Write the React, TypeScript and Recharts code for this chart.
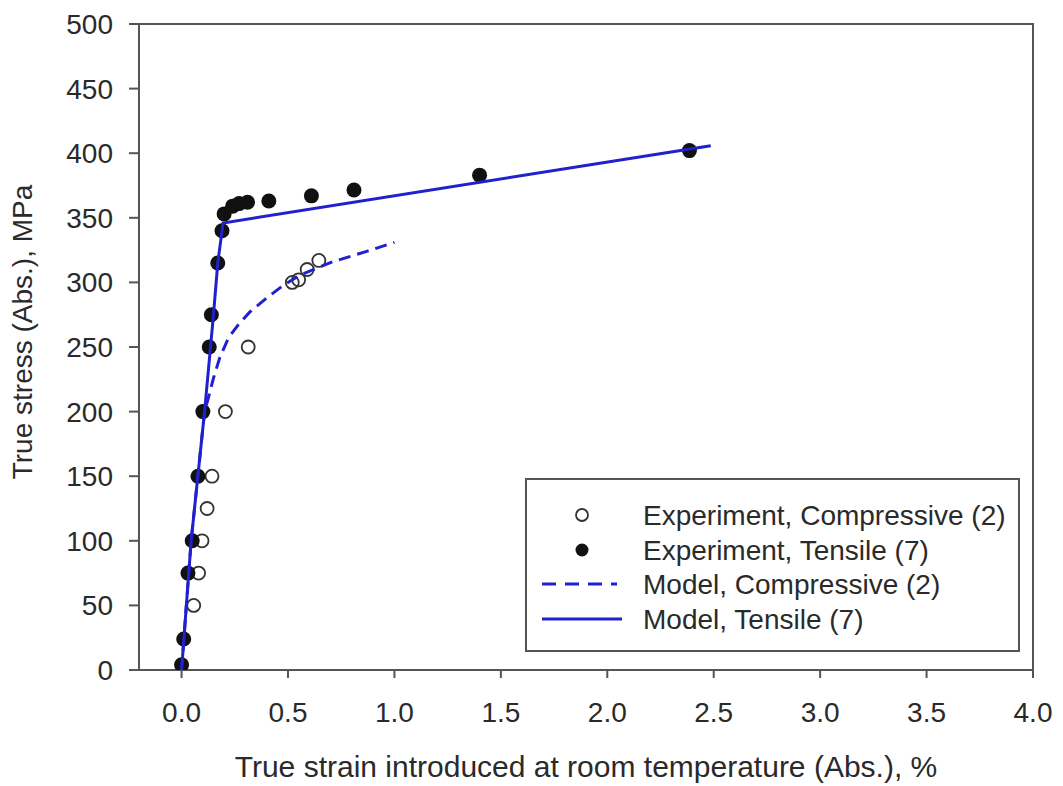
import React from 'react';
import { ScatterChart, Scatter, XAxis, YAxis, ReferenceArea, Legend, Label } from 'recharts';

// Experiment, Compressive (2) – open circles
const compExpX = [0.057, 0.08, 0.096, 0.12, 0.143, 0.206, 0.313, 0.52, 0.55, 0.59, 0.645];
const compExpY = [50, 75, 100, 125, 150, 200, 250, 300, 302, 310, 317];

// Experiment, Tensile (7) – filled circles
const tensExpX = [0, 0.01, 0.03, 0.05, 0.077, 0.1, 0.13, 0.14, 0.17, 0.19, 0.2, 0.24, 0.27, 0.31, 0.41, 0.61, 0.81, 1.4, 2.386];
const tensExpY = [4, 24, 75, 100, 150, 200, 250, 275, 315, 340, 353, 359, 361, 362, 363, 367, 371.5, 383, 402];

// Model, Compressive (2) – dashed line
const compModX = [0, 0.045, 0.108, 0.125, 0.15, 0.18, 0.22, 0.27, 0.32, 0.4, 0.48, 0.56, 0.71, 0.87, 1.0];
const compModY = [0, 100, 200, 210, 226, 242, 257, 268, 277, 288, 298, 306, 316, 324, 331];

// Model, Tensile (7) – solid line
const tensModX = [0, 0.045, 0.108, 0.15, 0.17, 0.195, 2.486];
const tensModY = [0, 100, 200, 275, 315, 346, 405.8];

const xTicks = [0, 0.5, 1, 1.5, 2, 2.5, 3, 3.5, 4];
const yTicks = [0, 50, 100, 150, 200, 250, 300, 350, 400, 450, 500];

const legendLabels = [
  'Experiment, Compressive (2)',
  'Experiment, Tensile (7)',
  'Model, Compressive (2)',
  'Model, Tensile (7)',
];

const zip = (xs: number[], ys: number[]) => xs.map((x, i) => ({ x, y: ys[i] }));
const compExp = zip(compExpX, compExpY);
const tensExp = zip(tensExpX, tensExpY);
const compMod = zip(compModX, compModY);
const tensMod = zip(tensModX, tensModY);

const FONT = '"Liberation Sans", Arial, sans-serif';
const BLUE = '#2020cc';
const AXIS = '#555';
const TEXT = '#2a2a2a';

const OpenDot = (p: any) => (
  <circle cx={p.cx} cy={p.cy} r={6.5} fill="none" stroke="#333" strokeWidth={1.8} />
);
const FilledDot = (p: any) => <circle cx={p.cx} cy={p.cy} r={7.5} fill="#111" />;
const NoDot = () => <g />;

const LegendBox = () => {
  const rows = [37, 72, 106, 141];
  return (
    <svg width={495} height={174} style={{ display: 'block' }}>
      <rect x={1} y={1} width={493} height={172} fill="#fff" stroke={AXIS} strokeWidth={2} />
      <circle cx={57} cy={rows[0]} r={6} fill="none" stroke="#333" strokeWidth={1.8} />
      <circle cx={57} cy={rows[1]} r={6.5} fill="#111" />
      <line x1={17} x2={92} y1={rows[2]} y2={rows[2]} stroke={BLUE} strokeWidth={3} strokeDasharray="14 9" />
      <line x1={17} x2={97} y1={rows[3]} y2={rows[3]} stroke={BLUE} strokeWidth={3} />
      {legendLabels.map((t, i) => (
        <text key={t} x={118} y={rows[i] + 10} fontSize={28} fontFamily={FONT} fill={TEXT}>
          {t}
        </text>
      ))}
    </svg>
  );
};

const YLabel = (props: any) => {
  const vb = props.viewBox || { x: 0, y: 0, width: 0, height: 0 };
  const cx = vb.x + 14;
  const cy = vb.y + vb.height / 2 - 15;
  return (
    <text
      x={cx}
      y={cy}
      transform={`rotate(-90, ${cx}, ${cy})`}
      textAnchor="middle"
      dominantBaseline="central"
      fontSize={28}
      fontFamily={FONT}
      fill={TEXT}
    >
      True stress (Abs.), MPa
    </text>
  );
};

export default function App() {
  return (
    <div style={{ position: 'relative', width: 1047, height: 776, background: '#fff' }}>
      <ScatterChart width={1047} height={776} margin={{ top: 16, right: 22, bottom: 0, left: 0 }}>
        <XAxis
          type="number"
          dataKey="x"
          domain={[-0.2, 4]}
          ticks={xTicks}
          allowDataOverflow
          tickFormatter={(v: number) => v.toFixed(1)}
          height={114}
          tickSize={8}
          tickMargin={24}
          tick={{ fontSize: 28, fill: TEXT, fontFamily: FONT }}
          axisLine={{ stroke: AXIS, strokeWidth: 2 }}
          tickLine={{ stroke: AXIS, strokeWidth: 2 }}
        >
          <Label
            value="True strain introduced at room temperature (Abs.), %"
            position="insideBottom"
            offset={7}
            style={{ fontSize: 30, fill: TEXT, fontFamily: FONT }}
          />
        </XAxis>
        <YAxis
          type="number"
          dataKey="y"
          domain={[0, 500]}
          ticks={yTicks}
          allowDataOverflow
          width={131}
          tickSize={10}
          tickMargin={16}
          tick={{ fontSize: 28, fill: TEXT, fontFamily: FONT }}
          axisLine={{ stroke: AXIS, strokeWidth: 2 }}
          tickLine={{ stroke: AXIS, strokeWidth: 2 }}
        >
          <Label content={<YLabel />} position="insideLeft" />
        </YAxis>
        <ReferenceArea
          x1={-0.2}
          x2={4}
          y1={0}
          y2={500}
          fill="none"
          fillOpacity={0}
          stroke={AXIS}
          strokeWidth={2}
          ifOverflow="visible"
        />
        <Scatter
          name="Experiment, Compressive (2)"
          data={compExp}
          shape={OpenDot}
          isAnimationActive={false}
        />
        <Scatter
          name="Experiment, Tensile (7)"
          data={tensExp}
          shape={FilledDot}
          isAnimationActive={false}
        />
        <Scatter
          name="Model, Compressive (2)"
          data={compMod}
          shape={NoDot}
          line={{ stroke: BLUE, strokeWidth: 3, strokeDasharray: '12 7' }}
          lineType="joint"
          isAnimationActive={false}
        />
        <Scatter
          name="Model, Tensile (7)"
          data={tensMod}
          shape={NoDot}
          line={{ stroke: BLUE, strokeWidth: 3 }}
          lineType="joint"
          isAnimationActive={false}
        />
        <Legend
          layout="vertical"
          align="center"
          verticalAlign="middle"
          content={<LegendBox />}
          wrapperStyle={{ position: 'absolute', left: 517, top: 470, width: 495, height: 174 }}
        />
      </ScatterChart>
    </div>
  );
}
